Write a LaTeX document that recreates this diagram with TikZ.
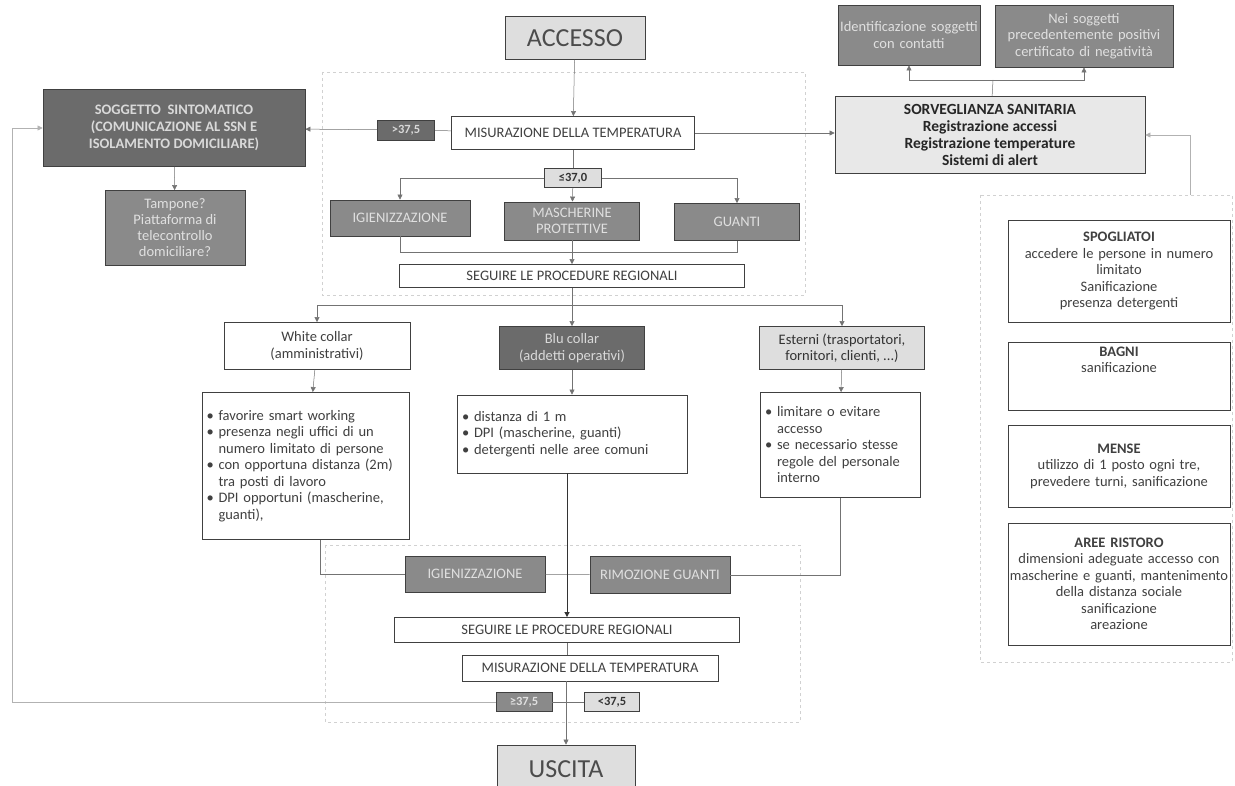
\documentclass[tikz,border=0pt]{standalone}
\usepackage{fontspec}
\setmainfont{Carlito}
\usetikzlibrary{arrows.meta}

\newcommand{\bul}{\textbullet\ }
\newcommand{\ind}{\hphantom{\textbullet\ }}

\begin{document}
\begin{tikzpicture}[x=1pt,y=-1pt,
    box/.style={draw=black!75, line width=0.9pt, inner sep=2pt, align=center,
        font=\fontsize{14.5}{16.5}\selectfont},
    dark/.style={box, fill=black!58, text=white!85!black},
    mid/.style={box, fill=black!46, text=white!88!black},
    light/.style={box, fill=black!13, text=black!80},
    plain/.style={box, fill=white, text=black!75},
    big/.style={font=\fontsize{26}{30}\selectfont, text=black!70},
    tag/.style={font=\fontsize{12.5}{13}\selectfont\bfseries},
    conn/.style={draw=black!55, line width=0.5pt},
    faint/.style={draw=black!18, line width=0.5pt, dashed},
    >={Triangle[length=5pt,width=5pt]}]
    \fill[white] (0,0) rectangle (1235,786);
    \useasboundingbox (0,0) rectangle (1235,786);

    % central column, top
    \node[light, big, minimum width=140, minimum height=43] at (575,38) (acc) {ACCESSO};
    \node[plain, minimum width=243, minimum height=33] at (573,133) (mis1) {MISURAZIONE DELLA TEMPERATURA};
    \node[dark, tag, minimum width=57, minimum height=20] at (406,130) (gt37) {>37,5};
    \node[light, tag, minimum width=57, minimum height=19] at (573,178) (le37) {≤37,0};
    \node[mid, minimum width=140, minimum height=36] at (400,218) (igi1) {IGIENIZZAZIONE};
    \node[mid, minimum width=135, minimum height=38, text width=131] at (572,221) (masc) {MASCHERINE\\PROTETTIVE};
    \node[mid, minimum width=125, minimum height=37] at (737,222) (gua) {GUANTI};
    \node[plain, minimum width=345, minimum height=23] at (572,276) (seg1) {SEGUIRE LE PROCEDURE REGIONALI};

    % left side
    \node[dark, font=\fontsize{14.5}{17}\selectfont\bfseries, minimum width=262, minimum height=77] at (174,128) (sogg)
        {SOGGETTO \ SINTOMATICO\\(COMUNICAZIONE AL SSN E\\ISOLAMENTO DOMICILIARE)};
    \node[mid, minimum width=140, minimum height=75, font=\fontsize{14.5}{16}\selectfont] at (175,228) (tamp)
        {Tampone?\\Piattaforma di\\telecontrollo\\domiciliare?};

    % workers
    \node[plain, minimum width=186, minimum height=47] at (317,346) (wc) {White collar\\(amministrativi)};
    \node[dark, minimum width=145, minimum height=43] at (572,348) (bc) {Blu collar\\(addetti operativi)};
    \node[light, minimum width=165, minimum height=43] at (842,348) (ext) {Esterni (trasportatori,\\fornitori, clienti, ...)};
    \node[plain, align=left, minimum width=207, minimum height=147, text width=199] at (306,466) (wcl)
        {\bul favorire smart working\\\bul presenza negli uffici di un\\\ind numero limitato di persone\\
         \bul con opportuna distanza (2m)\\\ind tra posti di lavoro\\\bul DPI opportuni (mascherine,\\\ind guanti),};
    \node[plain, align=left, minimum width=230, minimum height=78, text width=220] at (572,434) (bcl)
        {\bul distanza di 1 m\\\bul DPI (mascherine, guanti)\\\bul detergenti nelle aree comuni};
    \node[plain, align=left, minimum width=160, minimum height=105, text width=150] at (840,445) (extl)
        {\bul limitare o evitare\\\ind accesso\\\bul se necessario stesse\\\ind regole del personale\\\ind interno};

    % central column, bottom
    \node[mid, minimum width=140, minimum height=36] at (475,574) (igi2) {IGIENIZZAZIONE};
    \node[mid, minimum width=140, minimum height=37] at (660,575) (rim) {RIMOZIONE GUANTI};
    \node[plain, minimum width=345, minimum height=25] at (567,630) (seg2) {SEGUIRE LE PROCEDURE REGIONALI};
    \node[plain, minimum width=256, minimum height=26] at (590,668) (mis2) {MISURAZIONE DELLA TEMPERATURA};
    \node[mid, tag, minimum width=56, minimum height=19] at (524,702) (ge37) {≥37,5};
    \node[light, tag, minimum width=55, minimum height=19] at (612,702) (lt37) {<37,5};
    \node[light, big, minimum width=138, minimum height=48] at (566,769) (usc) {USCITA};

    % right side
    \node[mid, minimum width=142, minimum height=60, text width=138] at (909,35) (id) {Identificazione soggetti\\con contatti};
    \node[mid, minimum width=178, minimum height=62, text width=174] at (1084,36) (neg) {Nei soggetti\\precedentemente positivi\\certificato di negatività};
    \node[box, fill=black!9, text=black!85, font=\fontsize{15.5}{17}\selectfont\bfseries, minimum width=310, minimum height=77] at (990,135) (sorv)
        {SORVEGLIANZA SANITARIA\\Registrazione accessi\\Registrazione temperature\\Sistemi di alert};
    \node[plain, minimum width=222, minimum height=102, text width=218] at (1119,271) (spo)
        {\textbf{SPOGLIATOI}\\accedere le persone in numero\\limitato\\Sanificazione\\presenza detergenti};
    \node[plain, minimum width=222, minimum height=68, text width=218] at (1119,376) (bag)
        {\textbf{BAGNI}\\sanificazione\\~\\~};
    \node[plain, minimum width=222, minimum height=82, text width=218] at (1119,466) (men)
        {\textbf{MENSE}\\utilizzo di 1 posto ogni tre,\\prevedere turni, sanificazione};
    \node[plain, minimum width=222, minimum height=122, text width=218] at (1119,584) (are)
        {\textbf{AREE RISTORO}\\dimensioni adeguate accesso con\\\makebox[218pt][c]{mascherine e guanti, mantenimento}\\della distanza sociale\\sanificazione\\areazione};

    \coordinate (j1) at (572,252);
    \coordinate (j2) at (572,305);
    \coordinate (j3) at (993,80);
    \coordinate (rf) at (1190,195);
    \coordinate (lf) at (12,702);

    % faint frames
    \draw[faint] (322,72) rectangle (805,295);
    \draw[faint] (325,545) rectangle (800,722);
    \draw[faint] (980,195) rectangle (1232,662);

    \draw[conn,->] (acc) -- (mis1);
    \draw[conn] (mis1) -- (gt37);
    \draw[conn,->] (gt37) -- (sogg);
    \draw[conn,->] (sogg) -- (tamp);
    \draw[conn] (mis1) -- (le37);
    \draw[conn,->] (le37) -- (masc);
    \draw[conn,->] (le37.west) -| (igi1);
    \draw[conn,->] (le37.east) -| (gua);
    \draw[conn] (igi1) |- (j1);
    \draw[conn] (gua) |- (j1);
    \draw[conn,->] (masc) -- (seg1);
    \draw[conn] (seg1) -- (j2);
    \draw[conn,->] (j2) -| (wc);
    \draw[conn,->] (j2) -- (bc);
    \draw[conn,->] (j2) -| (ext);
    \draw[conn,->] (wc) -- (wcl);
    \draw[conn,->] (bc) -- (bcl);
    \draw[conn,->] (ext) -- (extl);
    \draw[conn] ([xshift=14pt]wcl.south) |- (igi2);
    \draw[conn] (extl) |- (rim);
    \draw[conn] (igi2) -- (rim);
    \draw[->, draw=black!80, line width=1pt] (bcl.south -| seg2) -- (seg2);
    \draw[conn] (seg2) -- (seg2 |- mis2.north);
    \draw[conn,->] (mis2.south -| usc) -- (usc);
    \draw[conn] (ge37) -- (lt37);
    \draw[conn, draw=black!30,->] (ge37) -- (lf) |- (sogg);
    \draw[conn,->] (mis1) -- (mis1 -| sorv.west);
    \draw[conn] (sorv) -- (j3);
    \draw[conn,->] (j3) -| (id);
    \draw[conn,->] (j3) -| (neg);
    \draw[conn, draw=black!30,->] (rf) |- (sorv);
\end{tikzpicture}
\end{document}
